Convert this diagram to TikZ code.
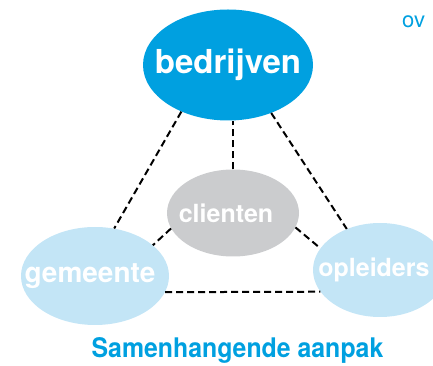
\documentclass[tikz,border=0pt]{standalone}
\usepackage{fontspec}
\setmainfont{TeX Gyre Heros}
\newfontfamily\condfont[FakeStretch=0.92]{TeX Gyre Heros}
\usepackage{xcolor}
\usepackage{tikz}
\usetikzlibrary{shapes.geometric,positioning}
\definecolor{darkblue}{RGB}{0,160,224}
\definecolor{lightblue}{RGB}{195,229,246}
\definecolor{softgrey}{RGB}{203,204,206}
\tikzset{
    bubble/.style={ellipse, inner sep=0pt, text=white, font=\bfseries},
    link/.style={line width=2pt, dash pattern=on 7pt off 4pt}
}
% text sits a little left of the bubble centre
\newcommand{\bubbletext}[2]{\makebox[0pt]{#2\hspace{#1}}}

\begin{document}
\begin{tikzpicture}[x=1pt,y=1pt]
    \useasboundingbox (0,0) rectangle (433,366);
    \node [bubble, fill=darkblue, minimum width=170, minimum height=111] (bedrijven) at (228,301) {\fontsize{33}{36}\selectfont\bubbletext{0pt}{bedrijven}};
    \node [bubble, fill=softgrey, minimum width=132, minimum height=87] (clienten) at (233,153) {\fontsize{25}{28}\selectfont\bubbletext{14pt}{clienten}};
    \node [bubble, fill=lightblue, minimum width=148, minimum height=98] (gemeente) at (95,90) {\fontsize{28}{30}\selectfont\bubbletext{10pt}{gemeente}};
    \node [bubble, fill=lightblue, minimum width=134, minimum height=94] (opleiders) at (380,96) {\fontsize{25}{28}\selectfont\bubbletext{12pt}{opleiders}};
    \draw [link] (bedrijven.225) -- (gemeente.68);
    \draw [link] (bedrijven.312) -- (opleiders.129);
    \draw [link] (clienten.north) -- (clienten.north |- bedrijven.south);
    \draw [link] (clienten.194) -- (gemeente.28);
    \draw [link] (clienten.347) -- (opleiders.160);
    \draw [link] (gemeente.347) -- (opleiders.200);
    \node [anchor=base west, text=darkblue, font=\fontsize{22}{24}\selectfont, inner sep=0pt] (over) at (402,338) {ov};
    \node [anchor=base, text=darkblue, font=\condfont\bfseries\fontsize{27}{30}\selectfont, inner sep=0pt] (title) at (237.5,8) {Samenhangende aanpak};
\end{tikzpicture}
\end{document}
